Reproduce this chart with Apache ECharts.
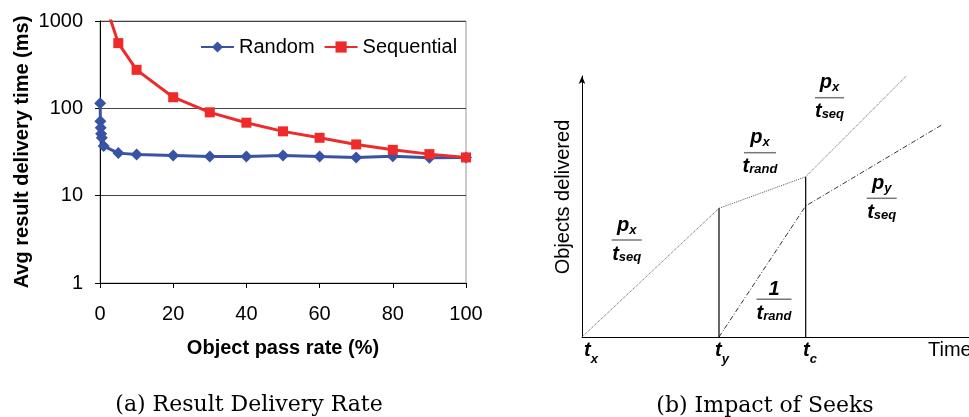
<!DOCTYPE html>
<html>
<head>
    <meta charset="utf-8" />
    <title>Result delivery rate and impact of seeks</title>
    <script src="https://cdn.jsdelivr.net/npm/echarts@6/dist/echarts.min.js"></script>
</head>
<body style="margin: 0">
    <div id="main" style="width: 969px; height: 417px"></div>
    <script type="text/javascript">
        // (a) avg result delivery time (ms) vs object pass rate (%)
        var randomX = [0.05, 0.1, 0.2, 0.3, 0.5, 1, 5, 10, 20, 30, 40, 50, 60, 70, 80, 90, 100];
        var randomMs = [114, 71, 60, 51, 46, 37, 30.7, 29.6, 28.9, 28, 28, 28.9, 28, 27.4, 28.2, 27.2, 27.4];
        var seqX = [1, 5, 10, 20, 30, 40, 50, 60, 70, 80, 90, 100];
        var seqMs = [1800, 558, 276, 134, 90, 68.5, 54.5, 46, 38.6, 33.5, 29.9, 27.4];

        // (b) schematic, time and objects in arbitrary units (0..100)
        var seekTimes = [0, 35.4, 57.8]; // t_x, t_y, t_c
        var seekNames = ["x", "y", "c"];
        var pxTime = [0, 35.4, 57.8, 83.8];
        var pxObjects = [0, 49.3, 61.4, 100];
        var pyTime = [35.4, 57.8, 92.9];
        var pyObjects = [0, 50.2, 81.2];

        var BLUE = "#3953a4";
        var RED = "#ee2b2b";
        var SANS = "Liberation Sans";
        var MAIN_FONT = 'italic bold 20px "Liberation Sans"';
        var SUB_FONT = 'italic bold 13px "Liberation Sans"';

        function zip(xs, ys) {
            return xs.map(function (x, i) {
                return [x, ys[i]];
            });
        }

        var ctx = document.createElement("canvas").getContext("2d");
        function textW(str, font) {
            ctx.font = font;
            return ctx.measureText(str).width;
        }

        function txt(x, y, str, font, align) {
            return {
                type: "text",
                x: x,
                y: y,
                silent: true,
                style: {
                    text: str,
                    font: font,
                    fill: "#000",
                    textAlign: align || "left",
                    align: align || "left",
                    textVerticalAlign: "middle",
                    verticalAlign: "middle",
                },
            };
        }

        // letter with subscript, left edge at x
        function sym(x, mid, main, sub, subDy) {
            var out = [txt(x, mid, main, MAIN_FONT)];
            if (sub) out.push(txt(x + textW(main, MAIN_FONT), mid + subDy, sub, SUB_FONT));
            return out;
        }

        function symW(main, sub) {
            return textW(main, MAIN_FONT) + (sub ? textW(sub, SUB_FONT) : 0);
        }

        function frac(cx, barY, barW, num, numSub, den, denSub) {
            var els = [];
            var wn = symW(num, numSub);
            var numMid = numSub ? barY - 15 : barY - 10;
            els = els.concat(sym(cx - wn / 2, numMid, num, numSub, 5));
            els.push({
                type: "line",
                silent: true,
                shape: { x1: cx - barW / 2, y1: barY, x2: cx + barW / 2, y2: barY },
                style: { stroke: "#777", lineWidth: 1.5 },
            });
            var wd = symW(den, denSub);
            els = els.concat(sym(cx - wd / 2, barY + 14, den, denSub, 3));
            return els;
        }

        var myChart = echarts.init(document.getElementById("main"));

        var graphics = [];
        graphics.push(txt(249, 405, "(a) Result Delivery Rate", '22px "DejaVu Serif"', "center"));
        graphics.push(txt(765, 406, "(b) Impact of Seeks", '22px "DejaVu Serif"', "center"));
        graphics.push(txt(928, 350, "Time", '20px "Liberation Sans"'));
        var yname = txt(563, 197, "Objects delivered", '20px "Liberation Sans"', "center");
        yname.rotation = Math.PI / 2;
        graphics.push(yname);

        var tLeft = [584, 715, 803];
        for (var i = 0; i < seekNames.length; i++) {
            graphics = graphics.concat(sym(tLeft[i], 350, "t", seekNames[i], 9));
        }

        graphics = graphics.concat(frac(626.7, 240, 30, "p", "x", "t", "seq"));
        graphics = graphics.concat(frac(760, 152.7, 32, "p", "x", "t", "rand"));
        graphics = graphics.concat(frac(829.5, 97.7, 29, "p", "x", "t", "seq"));
        graphics = graphics.concat(frac(881.7, 198.3, 30, "p", "y", "t", "seq"));
        graphics = graphics.concat(frac(774, 299.3, 35, "1", null, "t", "rand"));

        var diagLine = {
            type: "line",
            xAxisIndex: 1,
            yAxisIndex: 1,
            symbol: "none",
            silent: true,
            clip: false,
        };

        var option = {
            animation: false,
            textStyle: { fontFamily: SANS, color: "#000" },
            legend: {
                data: ["Random", "Sequential"],
                left: 200,
                top: 37,
                padding: 0,
                itemWidth: 33,
                itemHeight: 14,
                itemGap: 9,
                textStyle: { fontSize: 20, fontFamily: SANS, color: "#000" },
            },
            grid: [
                {
                    left: 100,
                    right: 503,
                    top: 21,
                    bottom: 134,
                    show: true,
                    borderColor: "#999",
                    borderWidth: 1,
                },
                { left: 582, right: 0, top: 76, bottom: 80 },
            ],
            xAxis: [
                {
                    gridIndex: 0,
                    type: "value",
                    min: 0,
                    max: 100,
                    interval: 20,
                    name: "Object pass rate (%)",
                    nameLocation: "middle",
                    nameGap: 55,
                    nameTextStyle: { fontSize: 20, fontWeight: "bold", color: "#000" },
                    axisLine: { lineStyle: { color: "#000", width: 1 } },
                    axisTick: { show: true, length: 5, lineStyle: { color: "#000" } },
                    axisLabel: { fontSize: 20, color: "#000", margin: 21 },
                    splitLine: { show: false },
                },
                {
                    gridIndex: 1,
                    type: "value",
                    min: 0,
                    max: 100,
                    axisLine: { lineStyle: { color: "#000", width: 1 } },
                    axisTick: { show: false },
                    axisLabel: { show: false },
                    splitLine: { show: false },
                },
            ],
            yAxis: [
                {
                    gridIndex: 0,
                    type: "log",
                    logBase: 10,
                    min: 1,
                    max: 1000,
                    name: "Avg result delivery time (ms)",
                    nameLocation: "middle",
                    nameGap: 68,
                    nameTextStyle: { fontSize: 20, fontWeight: "bold", color: "#000" },
                    axisLine: { show: true, lineStyle: { color: "#000", width: 1 } },
                    axisTick: { show: true, length: 5, lineStyle: { color: "#000" } },
                    axisLabel: {
                        fontSize: 20,
                        color: "#000",
                        margin: 17,
                        formatter: function (v) {
                            return String(Math.round(v));
                        },
                    },
                    splitLine: { show: true, lineStyle: { color: "#444", width: 1 } },
                },
                {
                    gridIndex: 1,
                    type: "value",
                    min: 0,
                    max: 100,
                    axisLine: {
                        show: true,
                        symbol: ["none", "arrow"],
                        symbolSize: [5, 8],
                        lineStyle: { color: "#000", width: 1 },
                    },
                    axisTick: { show: false },
                    axisLabel: { show: false },
                    splitLine: { show: false },
                },
            ],
            series: [
                {
                    name: "Random",
                    type: "line",
                    data: zip(randomX, randomMs),
                    symbol: "diamond",
                    symbolSize: 12,
                    itemStyle: { color: BLUE },
                    lineStyle: { color: BLUE, width: 3 },
                    z: 3,
                },
                {
                    name: "Sequential",
                    type: "line",
                    data: zip(seqX, seqMs),
                    symbol: "rect",
                    symbolSize: 10,
                    itemStyle: { color: RED },
                    lineStyle: { color: RED, width: 3 },
                    z: 4,
                },
                Object.assign({}, diagLine, {
                    data: zip(pxTime, pxObjects),
                    lineStyle: { color: "#555", width: 1, type: "dotted" },
                }),
                Object.assign({}, diagLine, {
                    data: zip(pyTime, pyObjects),
                    lineStyle: { color: "#333", width: 1, type: [5, 2, 1, 2] },
                }),
                Object.assign({}, diagLine, {
                    data: [[seekTimes[1], 0], [seekTimes[1], pxObjects[1]]],
                    lineStyle: { color: "#000", width: 1.2 },
                }),
                Object.assign({}, diagLine, {
                    data: [[seekTimes[2], 0], [seekTimes[2], pxObjects[2]]],
                    lineStyle: { color: "#000", width: 1.2 },
                }),
            ],
            graphic: graphics,
        };

        myChart.setOption(option);
    </script>
</body>
</html>
